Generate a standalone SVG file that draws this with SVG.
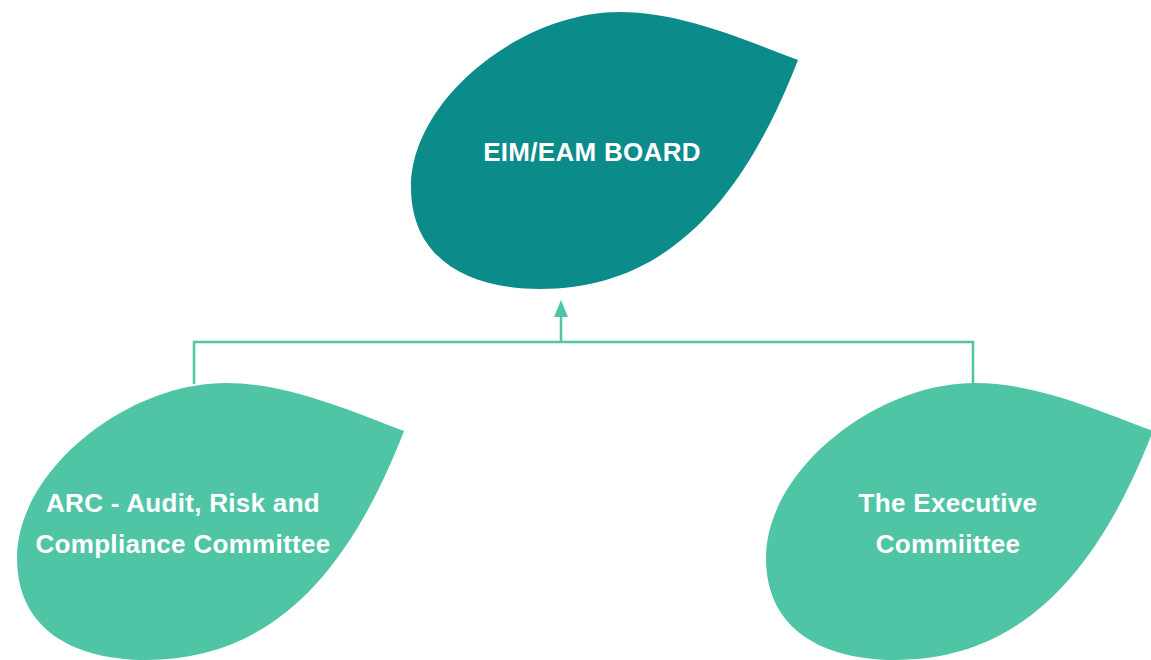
<svg xmlns="http://www.w3.org/2000/svg" width="1151" height="660" viewBox="0 0 1151 660">
  <defs>
    <style>
      .lbl { font-family: "Liberation Sans", Arial, sans-serif; font-weight: bold; font-size: 26px; letter-spacing: 0.3px; fill: #ffffff; text-anchor: middle; }
      .conn { fill: none; stroke: #50c5a6; stroke-width: 2.5; }
      .dark { fill: #0b8b8a; }
      .light { fill: #50c5a6; }
    </style>
    <path id="leaf" d="M387,48 C329,26 269,0 209,0 C109,0 0,88 0,175 C0,248 59,277 129,277 C249,277 329,198 387,48 Z"/>
  </defs>
  <rect width="1151" height="660" fill="#ffffff"/>
  <g id="connectors">
    <polyline class="conn" points="194,384 194,342 973,342 973,384"/>
    <line class="conn" x1="561" y1="342" x2="561" y2="316"/>
    <path d="M561,300 L568,317 L554,317 Z" fill="#50c5a6"/>
  </g>
  <g id="node-board">
    <use href="#leaf" class="dark" transform="translate(411,12)"/>
    <text class="lbl" x="592" y="161">EIM/EAM BOARD</text>
  </g>
  <g id="node-arc">
    <use href="#leaf" class="light" transform="translate(17,383)"/>
    <text class="lbl" x="183" y="512">ARC - Audit, Risk and</text>
    <text class="lbl" x="183" y="553">Compliance Committee</text>
  </g>
  <g id="node-exec">
    <use href="#leaf" class="light" transform="translate(766,383)"/>
    <text class="lbl" x="948" y="512">The Executive</text>
    <text class="lbl" x="948" y="553">Commiittee</text>
  </g>
</svg>
